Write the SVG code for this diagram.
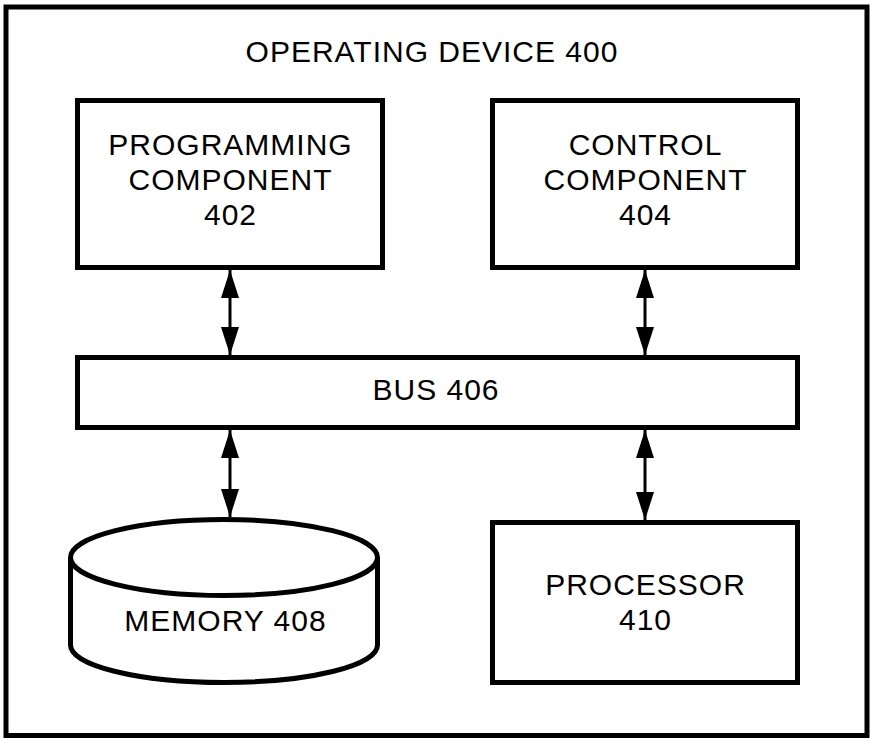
<svg xmlns="http://www.w3.org/2000/svg" width="870" height="738" viewBox="0 0 870 738">
<style>
.box{fill:#fff;stroke:#000;stroke-width:5}
.t{font-family:"Liberation Sans",Arial,sans-serif;font-size:30px;letter-spacing:1px;fill:#000;text-anchor:middle}
.c{stroke:#000;stroke-width:3;fill:none}
</style>
<defs>
<marker id="a" viewBox="0 0 28 18" refX="28" refY="9" markerWidth="28" markerHeight="18" markerUnits="userSpaceOnUse" orient="auto-start-reverse">
<path d="M0,0 L28,9 L0,18 Z" fill="#000"/>
</marker>
</defs>
<rect x="0" y="0" width="870" height="738" fill="#fff"/>
<g id="operating-device">
<rect class="box" x="6" y="7" width="861" height="728.5"/>
<text class="t" x="432" y="62">OPERATING DEVICE 400</text>
</g>
<g id="programming-component">
<rect class="box" x="77.5" y="100.5" width="305" height="167"/>
<text class="t" x="230.5" y="155">PROGRAMMING</text>
<text class="t" x="230.5" y="190">COMPONENT</text>
<text class="t" x="230.5" y="225">402</text>
</g>
<g id="control-component">
<rect class="box" x="492.5" y="100.5" width="305" height="167"/>
<text class="t" x="645.5" y="155">CONTROL</text>
<text class="t" x="645.5" y="190">COMPONENT</text>
<text class="t" x="645.5" y="225">404</text>
</g>
<g id="bus">
<rect class="box" x="77.5" y="357.5" width="720" height="70"/>
<text class="t" x="436" y="400">BUS 406</text>
</g>
<g id="memory">
<path class="box" d="M70.5,557.5 L70.5,645 A153.5,37.5 0 0 0 377.5,645 L377.5,557.5"/>
<ellipse class="box" cx="224" cy="557.5" rx="153.5" ry="38"/>
<text class="t" x="225.5" y="631">MEMORY 408</text>
</g>
<g id="processor">
<rect class="box" x="492.5" y="522.5" width="305" height="160"/>
<text class="t" x="645.5" y="595">PROCESSOR</text>
<text class="t" x="645.5" y="630">410</text>
</g>
<g id="connectors">
<line class="c" x1="230" y1="270" x2="230" y2="355" marker-start="url(#a)" marker-end="url(#a)"/>
<line class="c" x1="645" y1="270" x2="645" y2="355" marker-start="url(#a)" marker-end="url(#a)"/>
<line class="c" x1="230" y1="430" x2="230" y2="517" marker-start="url(#a)" marker-end="url(#a)"/>
<line class="c" x1="645" y1="430" x2="645" y2="520" marker-start="url(#a)" marker-end="url(#a)"/>
</g>
</svg>
